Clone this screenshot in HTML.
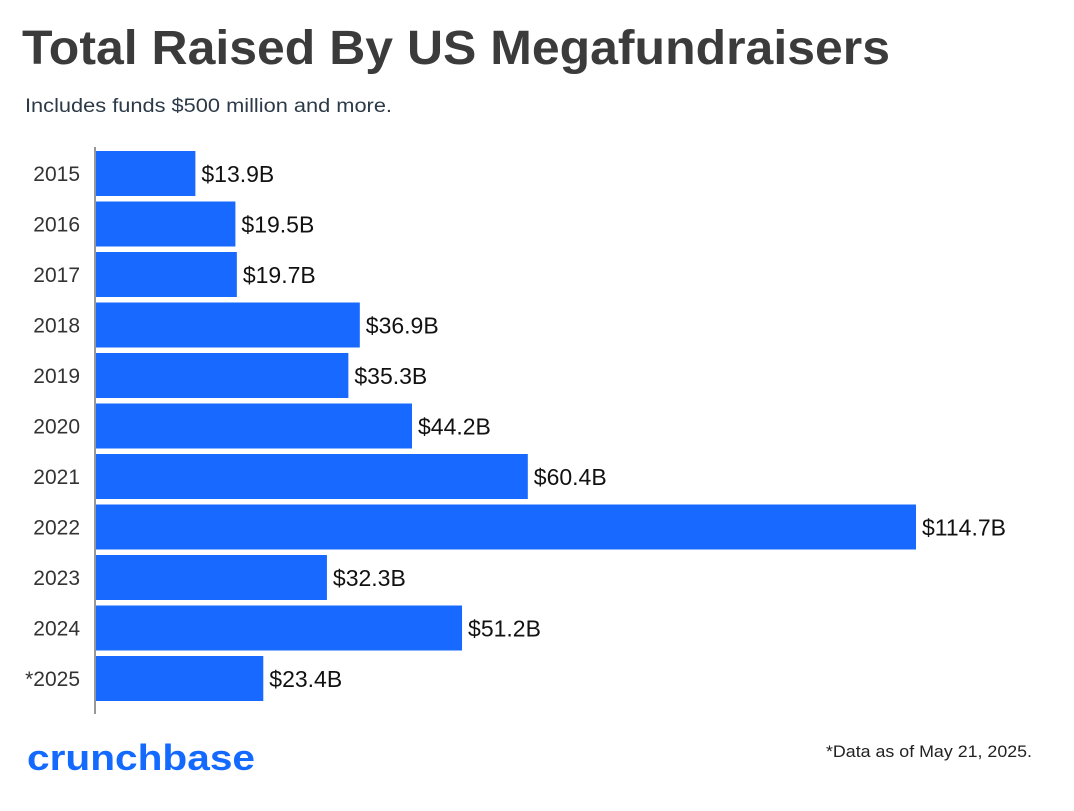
<!DOCTYPE html>
<html><head><meta charset="utf-8"><style>
body{margin:0;background:#fff;width:1074px;height:806px;overflow:hidden;font-family:"Liberation Sans",sans-serif}
</style></head><body>
<svg width="1074" height="806">
<text x="22" y="64" font-size="48" font-weight="bold" fill="#3b3b3b" textLength="868" lengthAdjust="spacingAndGlyphs">Total Raised By US Megafundraisers</text>
<text x="25" y="112" font-size="19" fill="#2c3a47" textLength="367" lengthAdjust="spacingAndGlyphs">Includes funds $500 million and more.</text>
<line x1="95" y1="147" x2="95" y2="714" stroke="#777" stroke-width="1.5"/>
<g id="bars"></g>
<text x="27" y="770" font-size="36" font-weight="bold" fill="#146aff" textLength="228" lengthAdjust="spacingAndGlyphs">crunchbase</text>
<text x="826" y="757" font-size="17" fill="#222" textLength="206" lengthAdjust="spacingAndGlyphs">*Data as of May 21, 2025.</text>
</svg>
<script>
const categories=["2015","2016","2017","2018","2019","2020","2021","2022","2023","2024","*2025"];
const values=[13.9,19.5,19.7,36.9,35.3,44.2,60.4,114.7,32.3,51.2,23.4];
const valueLabels=["$13.9B","$19.5B","$19.7B","$36.9B","$35.3B","$44.2B","$60.4B","$114.7B","$32.3B","$51.2B","$23.4B"];
const g=document.getElementById('bars');
const NS='http://www.w3.org/2000/svg';
const x0=96, scale=(916-96)/114.7;
function xPos(v){return x0+v*scale;}
function yPos(i){return 151+i*50.5;}
categories.forEach((c,i)=>{
  const y=yPos(i);
  const r=document.createElementNS(NS,'rect');
  r.setAttribute('x',x0);r.setAttribute('y',y);r.setAttribute('width',xPos(values[i])-x0);r.setAttribute('height',45);r.setAttribute('fill','#1769ff');
  
  
  g.appendChild(r);
  const t=document.createElementNS(NS,'text');
  t.setAttribute('x',80);t.setAttribute('y',y+30);t.setAttribute('text-anchor','end');t.setAttribute('font-size','21');t.setAttribute('fill','#333');
  t.textContent=c;
  
  
  g.appendChild(t);
  const v=document.createElementNS(NS,'text');
  v.setAttribute('x',xPos(values[i])+6);v.setAttribute('y',y+31);v.setAttribute('font-size','23');v.setAttribute('fill','#111');
  v.textContent=valueLabels[i];
  
  
  g.appendChild(v);
});
</script>
</body></html>
